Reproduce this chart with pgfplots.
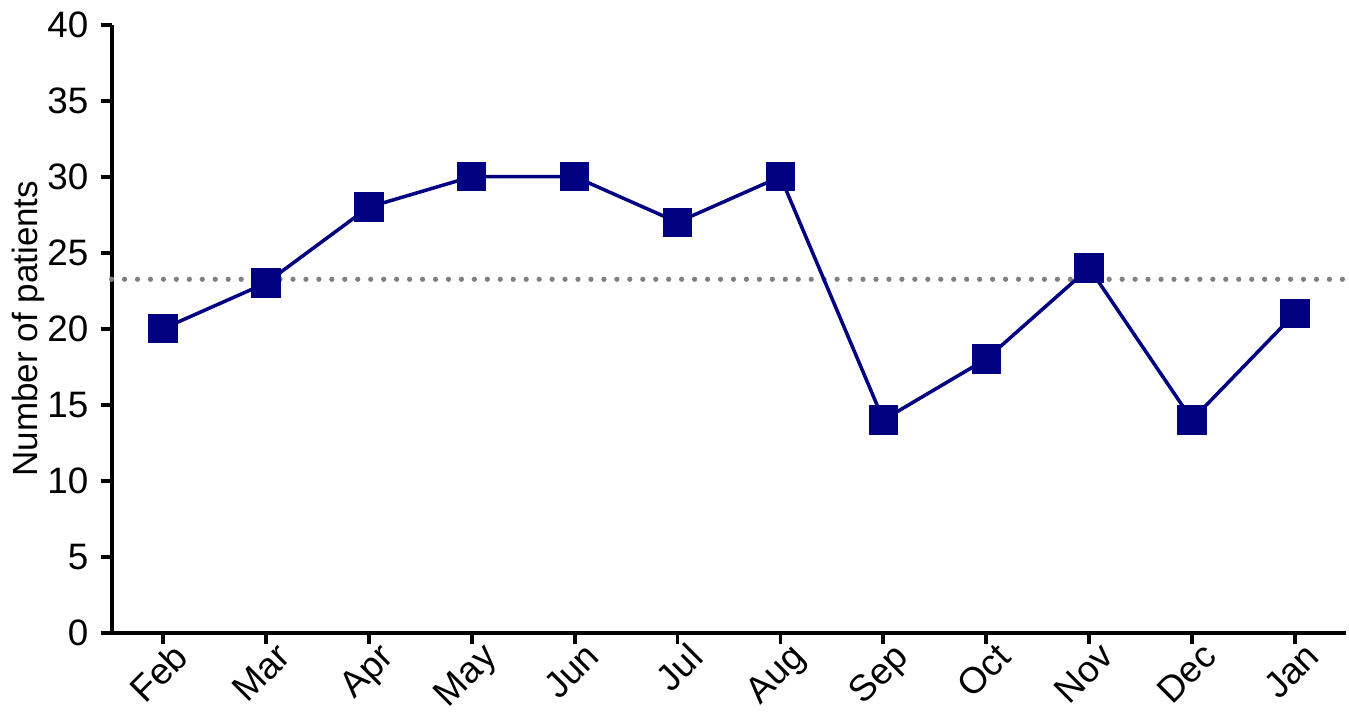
\documentclass[border=0pt]{standalone}
\usepackage{fontspec}
\setmainfont{Liberation Sans}
\usepackage{pgfplots}
\pgfplotsset{compat=1.18}
\definecolor{navyline}{RGB}{0,0,128}
\definecolor{meangray}{RGB}{128,128,128}
\begin{document}
\begin{tikzpicture}
  \begin{axis}[
    scale only axis,
    width=12.39cm,
    height=6.10cm,
    xmin=-0.5, xmax=11.5,
    ymin=0, ymax=40,
    ytick={0,5,...,40},
    xtick={0,...,11},
    xticklabels={Feb,Mar,Apr,May,Jun,Jul,Aug,Sep,Oct,Nov,Dec,Jan},
    x tick label style={rotate=45, anchor=north east, inner sep=1pt, xshift=0.12cm},
    axis x line*=bottom,
    axis y line*=left,
    axis line style={line width=1.1pt},
    tick style={line width=1.1pt, black},
    tickwidth=1.1mm,
    tick align=outside,
    ylabel={Number of patients},
    ylabel style={yshift=-6pt},
    tick label style={font=\fontsize{10.5}{12}\selectfont},
    label style={font=\fontsize{10}{12}\selectfont},
    /pgf/number format/assume math mode=true,
    clip=false,
  ]
    % mean line
    \addplot [meangray, line width=1.5pt, line cap=round,
      dash pattern=on 0pt off 1.3mm] coordinates {(-0.5,23.25) (11.5,23.25)};
    % monthly counts
    \addplot [navyline, line width=1pt, mark=square*,
      mark size=1.3mm, mark options={solid, fill=navyline}] coordinates {
      (0,20) (1,23) (2,28) (3,30) (4,30) (5,27)
      (6,30) (7,14) (8,18) (9,24) (10,14) (11,21)
    };
  \end{axis}
\end{tikzpicture}
\end{document}
